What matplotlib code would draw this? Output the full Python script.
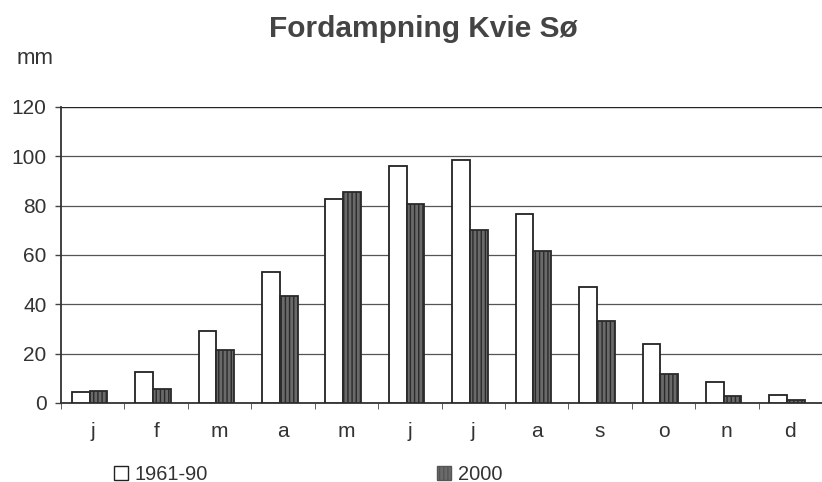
import numpy as np
import matplotlib.pyplot as plt
from matplotlib.patches import Patch

plt.rcParams['font.family'] = ['Liberation Sans', 'DejaVu Sans']
plt.rcParams['hatch.color'] = '#4a4a4a'

months = ['j', 'f', 'm', 'a', 'm', 'j', 'j', 'a', 's', 'o', 'n', 'd']
normal_1961_90 = [4.6, 12.4, 29.3, 53.0, 82.7, 96.2, 98.6, 76.7, 46.9, 23.9, 8.6, 3.4]
year_2000 = [4.8, 5.7, 21.6, 43.5, 85.7, 80.8, 70.0, 61.5, 33.4, 11.8, 2.8, 1.1]
yticks = [0, 20, 40, 60, 80, 100, 120]

fig = plt.figure(figsize=(8.22, 4.82), dpi=100)
ax = fig.add_axes([61 / 822, 79 / 482, 1 - 61 / 822, 296 / 482])

x = np.arange(len(months))
w = 0.28
ax.bar(x - w / 2 - 0.05, normal_1961_90, w, facecolor='white', edgecolor='#222222', linewidth=1.3, zorder=3)
ax.bar(x + w / 2 - 0.05, year_2000, w, facecolor='#6a6a6a', edgecolor='#2a2a2a', linewidth=1.3,
       hatch='||||', zorder=3)

ax.set_xlim(-0.5, len(months) - 0.5)
ax.set_ylim(0, 120)
ax.set_yticks(yticks)
ax.set_xticks(x)
ax.set_xticklabels(months)
ax.set_xticks(np.arange(len(months) + 1) - 0.5, minor=True)
ax.tick_params(axis='x', which='major', length=0, pad=14, labelsize=15, colors='#333333')
ax.tick_params(axis='x', which='minor', length=4, color='#444444')
ax.tick_params(axis='y', length=4.3, width=1, color='#444444', pad=6, labelsize=15, labelcolor='#333333')
ax.grid(axis='y', color='#555555', linewidth=0.9, zorder=0)

for s in ['right', 'top']:
    ax.spines[s].set_visible(False)
ax.spines['left'].set_color('#333333')
ax.spines['bottom'].set_color('#333333')
ax.spines['left'].set_linewidth(1.3)
ax.spines['bottom'].set_linewidth(1.3)
ax.axhline(120, color='#222222', linewidth=1.6, zorder=2)

fig.text(423 / 822, 1 - 37 / 482, 'Fordampning Kvie Sø', ha='center', va='baseline',
         fontsize=21.5, fontweight='bold', color='#444444')
fig.text(17 / 822, 1 - 59 / 482, 'mm', ha='left', va='center', fontsize=16, color='#333333')

handles = [Patch(facecolor='white', edgecolor='#222222', label='1961-90'),
           Patch(facecolor='#6a6a6a', edgecolor='#555555', hatch='||||', label='2000')]
fig.legend(handles=handles, loc='center left', bbox_to_anchor=(114 / 822, 1 - 474 / 482), ncol=2,
           frameon=False, fontsize=14.4, handlelength=0.7, handleheight=0.7, handletextpad=0.35,
           columnspacing=11.45, labelcolor='#333333', borderaxespad=0, borderpad=0)

fig.savefig('out.png', dpi=100)
